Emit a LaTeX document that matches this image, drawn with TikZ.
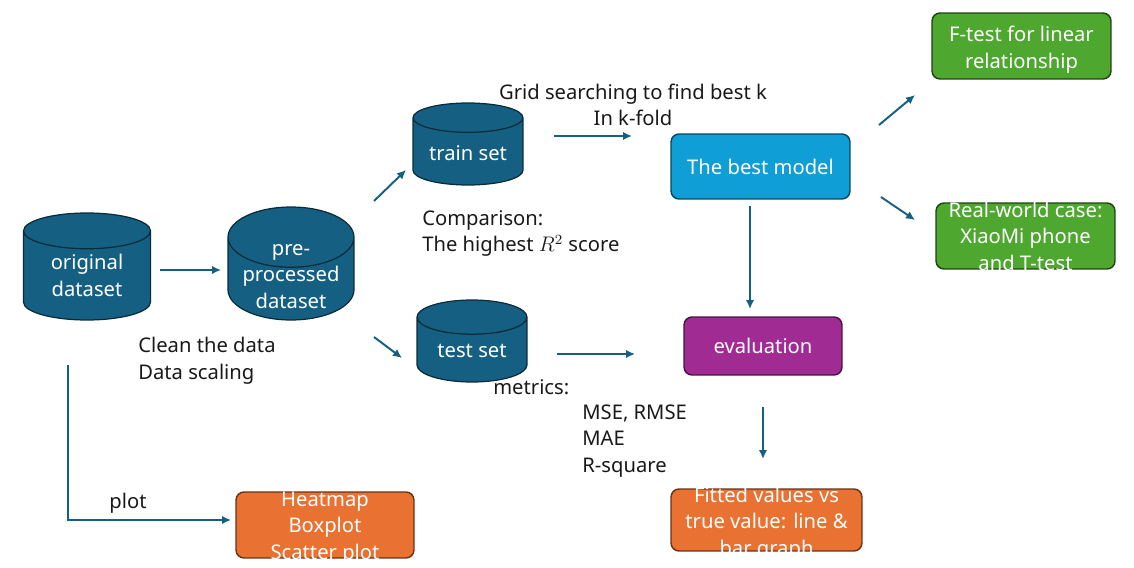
\documentclass[tikz,border=0pt]{standalone}
\usepackage{fontspec}
\setmainfont{Noto Sans}
\usetikzlibrary{arrows.meta,shapes.geometric}

\definecolor{dbteal}{HTML}{156082}
\definecolor{modelblue}{HTML}{0F9ED5}
\definecolor{evalpurple}{HTML}{A02B93}
\definecolor{plotorange}{HTML}{E97132}
\definecolor{testgreen}{HTML}{4EA72E}

\newcommand{\boxtext}[2][-4.5pt]{\smash{\raisebox{#1}{\begin{tabular}{@{}c@{}}#2\end{tabular}}}}

\tikzstyle{arrow}=[draw=dbteal, line width=1.1pt, -{Latex[length=1.8mm,width=1.7mm]}]
\tikzstyle{dataset}=[cylinder, shape border rotate=90, draw=dbteal!45!black, fill=dbteal, line width=0.7pt, text=white, inner sep=1pt, anchor=shape center]
\tikzstyle{stepbox}=[rectangle, rounded corners=1.6mm, line width=0.8pt, text=white, minimum width=35.8mm, minimum height=13.2mm, inner sep=0pt]
\tikzstyle{note}=[text=black!90, inner sep=0pt]

\begin{document}
\begin{tikzpicture}[x=0.02cm, y=-0.02cm, font=\fontsize{11.5}{15.1}\selectfont]
		   \useasboundingbox (0,0) rectangle (1134,568);
		   \begin{scope}
			   \node (orig) at (87, 266.5)[dataset, minimum width=25.4mm, minimum height=21.4mm, aspect=0.47] {\boxtext[-3pt]{original\\dataset}};
			   \node (pre) at (291, 263.5)[dataset, minimum width=25.2mm, minimum height=22.6mm, aspect=0.6] {\boxtext[0.5pt]{pre-\\processed\\dataset}};
			   \node (train) at (468, 144)[dataset, minimum width=22mm, minimum height=16.4mm, aspect=0.36] {\boxtext[-4pt]{train set}};
			   \node (test) at (472, 341)[dataset, minimum width=22mm, minimum height=16.4mm, aspect=0.47] {\boxtext[-3pt]{test set}};
			   \node (best) at (760.5, 166.5)[stepbox, fill=modelblue, draw=modelblue!45!black, minimum height=13mm] {\boxtext{The best model}};
			   \node (eval) at (763, 346)[stepbox, fill=evalpurple, draw=evalpurple!45!black, minimum width=31.6mm, minimum height=11.6mm] {\boxtext{evaluation}};
			   \node (fitted) at (766.5, 520)[stepbox, fill=plotorange, draw=plotorange!45!black, minimum width=38.2mm, minimum height=12.4mm] {\boxtext[-5pt]{Fitted values vs\\true value: line \&\\bar graph}};
			   \node (ftest) at (1021.5, 46)[stepbox, fill=testgreen, draw=testgreen!40!black] {\boxtext[-5pt]{F-test for linear\\relationship}};
			   \node (real) at (1025.5, 236)[stepbox, fill=testgreen, draw=testgreen!40!black] {\boxtext{Real-world case:\\XiaoMi phone\\and T-test}};
			   \node (heat) at (325, 525)[stepbox, fill=plotorange, draw=plotorange!45!black, minimum width=35.6mm] {\boxtext{Heatmap\\Boxplot\\Scatter plot}};
		   \end{scope}
		   \begin{scope}
			   \node (clean) at (138, 361)[note, anchor=west, align=left] {Clean the data\\Data scaling};
			   \node (grid) at (633, 105)[note, align=center] {Grid searching to find best k\\In k-fold};
			   \node (comp) at (422, 233.5)[note, anchor=west, align=left] {Comparison:\\The highest $R^2$ score};
			   \node (metrics) at (493, 387)[note, anchor=west] {metrics:};
			   \node (mse) at (582, 441)[note, anchor=west, align=left] {MSE, RMSE\\MAE\\R-square};
			   \node (plot) at (128, 503)[note] {plot};
		   \end{scope}
		   \begin{scope}
			   \draw[arrow] ([shift={(73,3.5)}]orig.shape center) -- ([shift={(-70,6.5)}]pre.shape center);

			   \draw[arrow] ([shift={(83,-62.5)}]pre.shape center) -- ([shift={(-62,26)}]train.shape center);
			   \draw[arrow] ([shift={(83,73.5)}]pre.shape center) -- ([shift={(-70,17)}]test.shape center);

			   \draw[arrow] ([shift={(86,-8)}]train.shape center) -- ([shift={(-128.5,-30.5)}]best.center);
			   \draw[arrow] ([shift={(85,13)}]test.shape center) -- ([shift={(-128,8)}]eval.center);

			   \draw[arrow] ([shift={(-10.5,39.5)}]best.center) -- ([shift={(-13,-37)}]eval.center);
			   \draw[arrow] ([shift={(0,61)}]eval.center) -- ([shift={(-3.5,-61)}]fitted.center);

			   \draw[arrow] ([shift={(118.5,-41.5)}]best.center) -- ([shift={(-106.5,49)}]ftest.center);
			   \draw[arrow] ([shift={(120.5,30.5)}]best.center) -- ([shift={(-110.5,-16)}]real.center);

			   \draw[arrow] ([shift={(-19,98.5)}]orig.shape center) |- ([shift={(-94,-5)}]heat.center);
		   \end{scope}
	   \end{tikzpicture}
\end{document}
